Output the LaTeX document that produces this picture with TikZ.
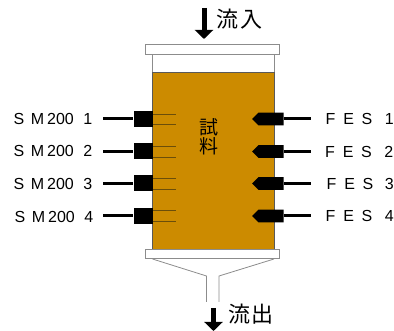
\documentclass[tikz,border=0pt]{standalone}
\usepackage{fontspec}
\setmainfont{Liberation Sans}
\newfontfamily\jpfont{Noto Sans CJK JP}
\usetikzlibrary{arrows.meta,shapes.symbols}
\definecolor{sample}{HTML}{CC8B00}
\definecolor{probe}{HTML}{6B4E0A}
\tikzset{
  smblock/.style={shape=rectangle, fill=black, inner sep=0pt, minimum width=19pt, minimum height=16pt},
  fesblock/.style={shape=signal, signal to=west, fill=black, inner sep=0pt, minimum width=31.5pt, minimum height=12.7pt},
  wire/.style={-, line width=3pt, draw=black},
  probeline/.style={-, line width=0.8pt, draw=probe},
  flow/.style={-{Triangle[length=9pt,width=18pt]}, line width=5pt, draw=black},
  sensor/.style={anchor=west, inner sep=0pt, font=\fontsize{16}{18}\selectfont},
  flowtext/.style={anchor=west, inner sep=0pt, font=\jpfont\fontsize{22}{24}\selectfont},
  wall/.style={draw=black!45, line width=0.8pt}
}
\begin{document}
\begin{tikzpicture}[x=1pt, y=-1pt]
\useasboundingbox (0,0) rectangle (394,331);
% column and end caps
\path [wall, fill=white] (152.5,54) rectangle (274,72);
\path [draw=black!65, line width=0.8pt, fill=sample] (152.5,72) rectangle (274,249);
\path [wall, fill=white] (145.5,44) rectangle (279,54);
\path [wall, fill=white] (145.5,249) rectangle (279,258.5);
% funnel
\path [wall] (152.5,259) -- (206.5,276) -- (206.5,302);
\path [wall] (274,259) -- (219,276) -- (219,302);
% flow arrows
\coordinate (in1) at (204,8);
\coordinate (in2) at (204,39);
\coordinate (out1) at (213.5,308);
\coordinate (out2) at (213.5,331);
\draw [flow] (in1) -- (in2);
\draw [flow] (out1) -- (out2);
\node[flowtext] (inlabel) at (216.5,19) {流\hspace{1.5pt}入};
\node[flowtext] (outlabel) at (228,314) {流\hspace{1.5pt}出};
\node[inner sep=0pt, align=center, font=\jpfont\fontsize{19}{17.5}\selectfont] (samplelabel) at (208.5,137) {試\\料};
% left sensors
\node[smblock] (sm1) at (143,119) {};
\node[smblock] (sm2) at (143,151.5) {};
\node[smblock] (sm3) at (143,183.5) {};
\node[smblock] (sm4) at (143,216) {};
\coordinate (smw1) at (103,119);
\coordinate (smw2) at (103,151.5);
\coordinate (smw3) at (103,183.5);
\coordinate (smw4) at (103,216);
\path [wire] (smw1) edge (sm1);
\path [wire] (smw2) edge (sm2);
\path [wire] (smw3) edge (sm3);
\path [wire] (smw4) edge (sm4);
\path [probeline] (152.5,114) edge (176,114);
\path [probeline] (152.5,124.7) edge (176,124.7);
\path [probeline] (152.5,146.5) edge (176,146.5);
\path [probeline] (152.5,157) edge (176,157);
\path [probeline] (152.5,178.5) edge (176,178.5);
\path [probeline] (152.5,189.3) edge (176,189.3);
\path [probeline] (152.5,210.7) edge (176,210.7);
\path [probeline] (152.5,221.7) edge (176,221.7);
\node[sensor] (smlabel1) at (13.5,118.5) {S\hspace{6.5pt}M\hspace{3pt}200\hspace{9.5pt}1};
\node[sensor] (smlabel2) at (13.5,151) {S\hspace{6.5pt}M\hspace{3pt}200\hspace{9.5pt}2};
\node[sensor] (smlabel3) at (13.5,183.5) {S\hspace{6.5pt}M\hspace{3pt}200\hspace{9.5pt}3};
\node[sensor] (smlabel4) at (14.5,216.5) {S\hspace{6.5pt}M\hspace{3pt}200\hspace{9.5pt}4};
% right sensors
\node[fesblock] (fes1) at (271,119) {};
\node[fesblock] (fes2) at (271,151.5) {};
\node[fesblock] (fes3) at (271,183.5) {};
\node[fesblock] (fes4) at (271,216) {};
\coordinate (fesw1) at (310.5,119);
\coordinate (fesw2) at (310.5,151.5);
\coordinate (fesw3) at (310.5,183.5);
\coordinate (fesw4) at (310.5,216);
\path [wire] (fesw1) edge (fes1);
\path [wire] (fesw2) edge (fes2);
\path [wire] (fesw3) edge (fes3);
\path [wire] (fesw4) edge (fes4);
\node[sensor] (feslabel1) at (325.5,119) {F\hspace{8pt}E\hspace{7.5pt}S\hspace{12.5pt}1};
\node[sensor] (feslabel2) at (325,152) {F\hspace{8pt}E\hspace{7.5pt}S\hspace{12.5pt}2};
\node[sensor] (feslabel3) at (326.5,184) {F\hspace{8pt}E\hspace{7.5pt}S\hspace{11.5pt}3};
\node[sensor] (feslabel4) at (325.5,216) {F\hspace{8pt}E\hspace{7.5pt}S\hspace{12.5pt}4};
\end{tikzpicture}
\end{document}
